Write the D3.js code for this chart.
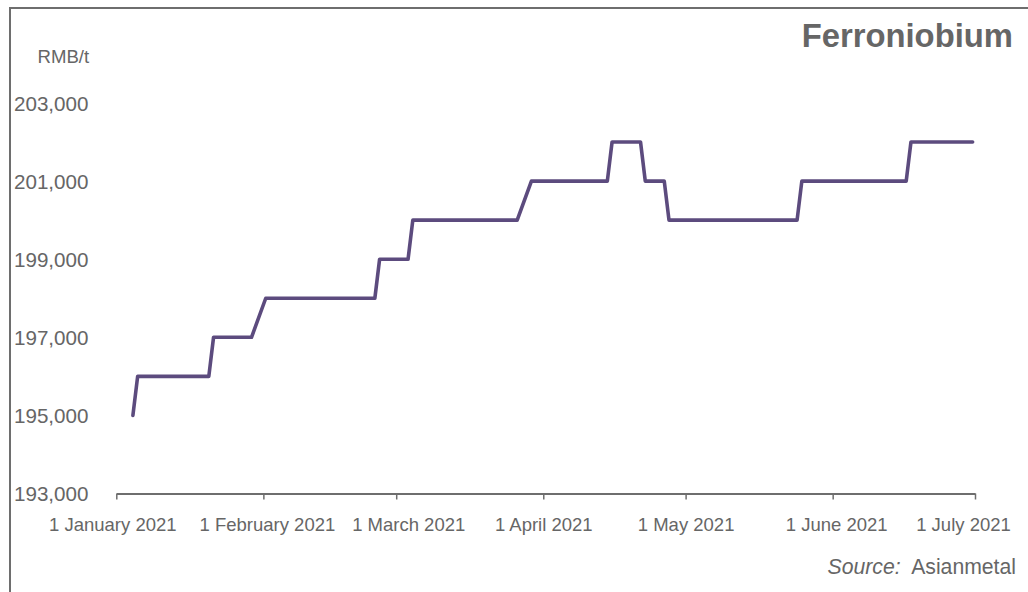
<!DOCTYPE html>
<html>
<head>
<meta charset="utf-8">
<script src="https://cdn.jsdelivr.net/npm/d3@7"></script>
<style>
  html, body { margin: 0; padding: 0; background: #fff; }
  svg { display: block; font-family: "Liberation Sans", Arial, Helvetica, sans-serif; }
</style>
</head>
<body>
<svg id="chart" width="1028" height="592"></svg>
<script>
// ---- data (step change points) ----
const dates = [
  "2021-01-04","2021-01-05","2021-01-20","2021-01-21","2021-01-29","2021-02-01",
  "2021-02-24","2021-02-25","2021-03-03","2021-03-04","2021-03-26","2021-03-29",
  "2021-04-14","2021-04-15","2021-04-21","2021-04-22","2021-04-26","2021-04-27",
  "2021-05-24","2021-05-25","2021-06-16","2021-06-17","2021-06-30"
];
const prices = [
  195000,196000,196000,197000,197000,198000,
  198000,199000,199000,200000,200000,201000,
  201000,202000,202000,201000,201000,200000,
  200000,201000,201000,202000,202000
];
const yTicks = [193000,195000,197000,199000,201000,203000];
const xTickDates = ["2021-01-01","2021-02-01","2021-03-01","2021-04-01","2021-05-01","2021-06-01","2021-07-01"];
const xTickLabels = ["1 January 2021","1 February 2021","1 March 2021","1 April 2021","1 May 2021","1 June 2021","1 July 2021"];
const title = "Ferroniobium";
const unit = "RMB/t";
const sourceLabel = "Source:";
const sourceName = "Asianmetal";

// ---- layout ----
const parse = d3.timeParse("%Y-%m-%d");
const textColor = "#666666";
const lineColor = "#5c4b7e";
const svg = d3.select("#chart");

const x = d3.scaleTime()
  .domain([parse("2021-01-01"), parse("2021-07-01")])
  .range([116.3, 975]);
const y = d3.scaleLinear()
  .domain([193000, 203000])
  .range([493.5, 103]);

// frame (left + top)
svg.append("path")
  .attr("d", "M10,592 L10,8 L1028,8")
  .attr("fill", "none")
  .attr("stroke", "#6e6e6e")
  .attr("stroke-width", 2);

// title
svg.append("text")
  .attr("x", 1013).attr("y", 46.5)
  .attr("text-anchor", "end")
  .attr("font-size", 32.8)
  .attr("font-weight", "bold")
  .attr("fill", "#666666")
  .text(title);

// unit
svg.append("text")
  .attr("x", 37.5).attr("y", 63)
  .attr("font-size", 18.6)
  .attr("fill", textColor)
  .text(unit);

// y axis labels
const gy = svg.append("g")
  .attr("transform", "translate(14,0)")
  .call(d3.axisLeft(y).tickValues(yTicks).tickSize(0).tickFormat(d3.format(",")));
gy.select(".domain").remove();
gy.selectAll("text")
  .attr("x", 0)
  .attr("dy", "0.36em")
  .attr("text-anchor", "start")
  .attr("font-size", 20.6)
  .attr("font-family", "Liberation Sans, Arial, sans-serif")
  .attr("fill", textColor);

// x axis
const labelNudge = [-4, 3.5, 12, 0, 0, 3.5, -12];
const xTicks = xTickDates.map(parse);
const gx = svg.append("g")
  .attr("transform", "translate(0,493.5)")
  .call(d3.axisBottom(x).tickValues(xTicks).tickSize(6).tickSizeOuter(0)
    .tickFormat((d, i) => xTickLabels[i]));
gx.select(".domain").attr("stroke", "#6e6e6e").attr("stroke-width", 2);
gx.selectAll(".tick line").attr("stroke", "#6e6e6e").attr("stroke-width", 1.5);
gx.selectAll(".tick text")
  .attr("y", 37.5)
  .attr("dy", 0)
  .attr("dx", (d, i) => labelNudge[i])
  .attr("font-size", 18.5)
  .attr("font-family", "Liberation Sans, Arial, sans-serif")
  .attr("fill", textColor);

// series line (points sit at mid-day)
const series = dates.map((d, i) => ({ date: d3.timeHour.offset(parse(d), 12), value: prices[i] }));
const line = d3.line()
  .x(d => x(d.date))
  .y(d => y(d.value));
svg.append("path")
  .datum(series)
  .attr("d", line)
  .attr("fill", "none")
  .attr("stroke", lineColor)
  .attr("stroke-width", 3.6)
  .attr("stroke-linejoin", "round")
  .attr("stroke-linecap", "round");

// source
const src = svg.append("text")
  .attr("x", 1016).attr("y", 573.5)
  .attr("text-anchor", "end")
  .attr("font-size", 21.2)
  .attr("fill", textColor);
src.append("tspan").attr("font-style", "italic").text(sourceLabel);
src.append("tspan").text("\u00a0 " + sourceName);
</script>
</body>
</html>
